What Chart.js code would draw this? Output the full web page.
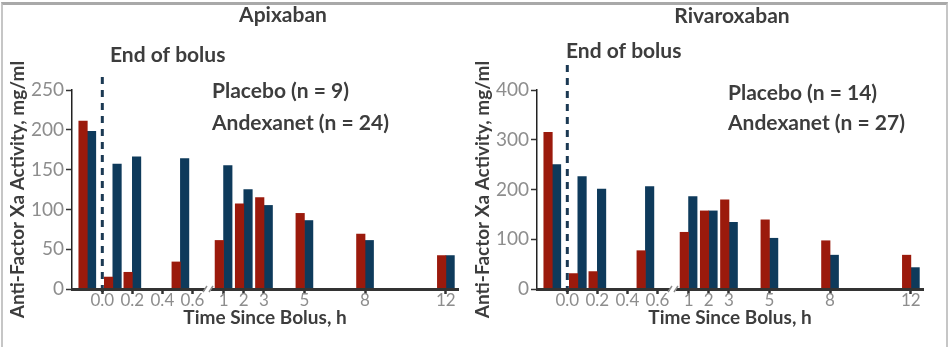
<!DOCTYPE html>
<html>
<head>
<meta charset="utf-8">
<script src="https://cdn.jsdelivr.net/npm/chart.js@4/dist/chart.umd.min.js"></script>
<style>
  html, body { margin: 0; padding: 0; background: #ffffff; }
  body { width: 951px; height: 347px; position: relative; overflow: hidden; }
  .frame {
    position: absolute; left: 1px; top: 2px; width: 947px; height: 345px;
    box-sizing: border-box;
    border-top: 3px solid #a9a9a9;
    border-left: 2px solid #c6c6c6;
    border-right: 2px solid #c6c6c6;
  }
  #apixaban { position: absolute; left: 0; top: 0; }
  #rivaroxaban { position: absolute; left: 465px; top: 0; }
</style>
</head>
<body>
<div class="frame"></div>
<canvas id="apixaban" width="465" height="347"></canvas>
<canvas id="rivaroxaban" width="486" height="347"></canvas>
<script>
// Time-axis tick marks (hours since end of bolus) and their labels
const tickTimes  = [0, 0.2, 0.4, 0.6, 1, 2, 3, 5, 8, 12];
const tickLabels = ['0.0', '0.2', '0.4', '0.6', '1', '2', '3', '5', '8', '12'];

// Sampling times; the first one is the pre-bolus baseline, just left of 0.0
const sampleTimes = [-0.1, 0.07, 0.2, 0.52, 1, 2, 3, 5, 8, 12];

// Anti-factor Xa activity, mg/ml
const apixabanAndexanet    = [211, 15, 21, 34, 61, 107, 115, 95, 69, 42];
const apixabanPlacebo      = [198, 157, 166, 164, 155, 125, 105, 86, 61, 42];
const rivaroxabanAndexanet = [315, 31, 35, 77, 114, 157, 179, 139, 97, 68];
const rivaroxabanPlacebo   = [250, 226, 201, 206, 186, 157, 134, 102, 68, 43];

// Activity-axis ticks
const apixabanYTicks    = [0, 50, 100, 150, 200, 250];
const rivaroxabanYTicks = [0, 100, 200, 300, 400];

const RED  = '#9b1a0c';
const BLUE = '#0e3a5b';
const TEXT = '#3d3d3d';
const TICK_TEXT = '#8d8d8d';

Chart.defaults.font.family = 'Lato';

// Broken time axis: 0–0.6 h is stretched, then a break, then 1–12 h on a linear hour scale
const EARLY_UNITS_PER_HOUR = 7.43;
const ONE_HOUR_POS = 6.0;
function axisPos(t) {
  return t <= 0.6 ? t * EARLY_UNITS_PER_HOUR : ONE_HOUR_POS + (t - 1);
}

// Panel title, "End of bolus" marker, dose-group labels and the axis break
const panelNotes = {
  id: 'panelNotes',
  beforeDatasetsDraw(chart, args, o) {
    const { ctx, chartArea, scales: { x } } = chart;
    const bx = x.getPixelForValue(axisPos(0));
    ctx.save();
    ctx.strokeStyle = '#1b3953';
    ctx.lineWidth = 3;
    ctx.setLineDash([7, 6]);
    ctx.beginPath();
    ctx.moveTo(bx, o.dashTop);
    ctx.lineTo(bx, chartArea.bottom + 3);
    ctx.stroke();
    ctx.restore();
  },
  afterDraw(chart, args, o) {
    const { ctx, chartArea, scales: { x } } = chart;
    ctx.save();
    ctx.setLineDash([]);
    ctx.fillStyle = TEXT;
    ctx.textBaseline = 'alphabetic';

    ctx.font = 'bold 21px Lato';
    ctx.textAlign = 'center';
    ctx.fillText(o.title, o.titleX, o.titleY);

    ctx.textAlign = 'left';
    ctx.fillText('End of bolus', o.bolusX, o.bolusY);

    const groups = chart.data.datasets;
    ctx.fillText(groups[1].label, o.legendX, o.legendY[0]);
    ctx.fillText(groups[0].label, o.legendX, o.legendY[1]);

    // axis break between 0.6 h and 1 h
    const gx = (x.getPixelForValue(axisPos(0.6)) + x.getPixelForValue(axisPos(1))) / 2;
    const gy = chartArea.bottom;
    ctx.fillStyle = '#ffffff';
    ctx.fillRect(gx - 3, gy - 3, 6, 6);
    ctx.strokeStyle = '#8c8c8c';
    ctx.lineWidth = 1.5;
    ctx.beginPath();
    ctx.moveTo(gx - 5, gy + 3); ctx.lineTo(gx - 1, gy - 3);
    ctx.moveTo(gx + 1, gy + 3); ctx.lineTo(gx + 5, gy - 3);
    ctx.stroke();
    ctx.restore();
  }
};

function buildPanel(canvasId, p) {
  const points = values => sampleTimes.map((t, i) => ({ x: axisPos(t), y: values[i] }));
  return new Chart(document.getElementById(canvasId), {
    type: 'bar',
    data: {
      datasets: [
        { label: p.andexanetLabel, data: points(p.andexanet), backgroundColor: RED,
          barThickness: 8.5, borderWidth: 0 },
        { label: p.placeboLabel, data: points(p.placebo), backgroundColor: BLUE,
          barThickness: 8.5, borderWidth: 0 }
      ]
    },
    options: {
      responsive: false,
      animation: false,
      events: [],
      layout: { padding: { top: 90, left: 0, bottom: 0, right: p.padRight } },
      plugins: {
        legend: { display: false },
        tooltip: { enabled: false },
        panelNotes: p.notes
      },
      scales: {
        x: {
          type: 'linear',
          min: -1.5,
          max: 17.6,
          offset: false,
          afterBuildTicks: s => { s.ticks = tickTimes.map(t => ({ value: axisPos(t) })); },
          afterFit: s => { s.height = 58; },
          ticks: {
            autoSkip: false, maxRotation: 0, padding: -1.5,
            color: TICK_TEXT,
            font: { family: 'Lato', size: 17, lineHeight: 1 },
            callback: (v, i) => tickLabels[i],
            z: 1
          },
          grid: { offset: false, drawOnChartArea: false, drawTicks: true, tickLength: 5,
                  tickColor: '#333333', tickWidth: 2.5, z: 1 },
          border: { color: '#333333', width: 3, z: 1 },
          title: {
            display: true, text: 'Time Since Bolus, h', color: TEXT,
            font: { family: 'Lato', size: 19, weight: 'bold' },
            padding: { top: 0, bottom: 18 }
          }
        },
        y: {
          min: 0,
          max: p.yTicks[p.yTicks.length - 1],
          afterBuildTicks: s => { s.ticks = p.yTicks.map(v => ({ value: v })); },
          afterFit: s => { s.width = 72; },
          ticks: { color: TICK_TEXT, font: { family: 'Lato', size: 19 }, padding: 2 },
          grid: { offset: false, drawOnChartArea: false, tickLength: 6, tickColor: '#333333', tickWidth: 1.5 },
          border: { color: '#222222', width: 1.5 },
          title: {
            display: true, text: 'Anti-Factor Xa Activity, mg/ml', color: TEXT,
            font: { family: 'Lato', size: 19, weight: 'bold' },
            padding: { top: 6, bottom: 0 }
          }
        }
      }
    },
    plugins: [panelNotes]
  });
}

buildPanel('apixaban', {
  andexanet: apixabanAndexanet,
  placebo: apixabanPlacebo,
  andexanetLabel: 'Andexanet (n = 24)',
  placeboLabel: 'Placebo (n = 9)',
  yTicks: apixabanYTicks,
  padRight: 7,
  notes: { title: 'Apixaban', titleX: 283, titleY: 22, bolusX: 110, bolusY: 62,
           dashTop: 77, legendX: 212, legendY: [98, 130] }
});

buildPanel('rivaroxaban', {
  andexanet: rivaroxabanAndexanet,
  placebo: rivaroxabanPlacebo,
  andexanetLabel: 'Andexanet (n = 27)',
  placeboLabel: 'Placebo (n = 14)',
  yTicks: rivaroxabanYTicks,
  padRight: 28,
  notes: { title: 'Rivaroxaban', titleX: 267, titleY: 23, bolusX: 101, bolusY: 58,
           dashTop: 65, legendX: 263, legendY: [100, 130] }
});
</script>
</body>
</html>
